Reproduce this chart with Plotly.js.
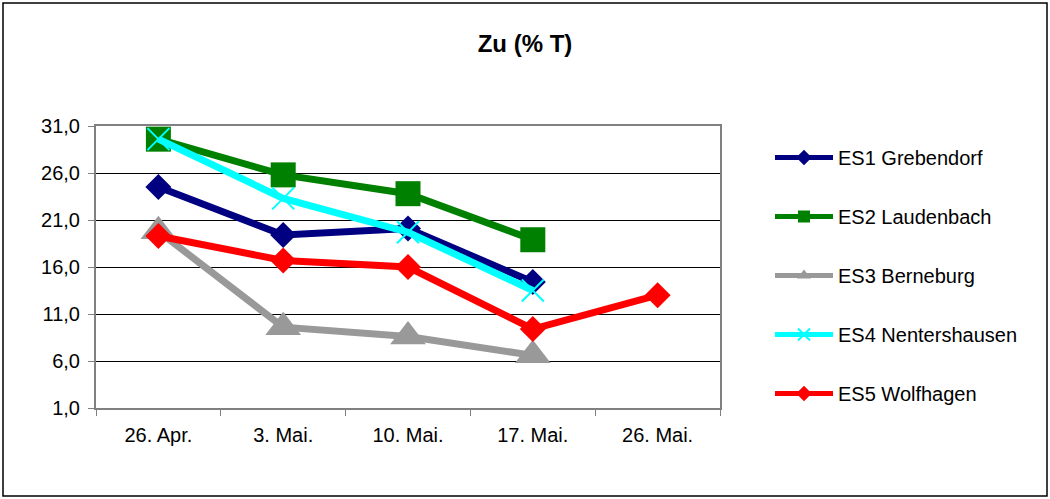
<!DOCTYPE html>
<html><head><meta charset="utf-8">
<script src="https://cdn.plot.ly/plotly-3.0.1.min.js"></script>
<style>html,body{margin:0;padding:0;background:#fff}#c{width:1050px;height:499px}</style>
</head><body><div id="c"></div>
<script>
const categories = ["26. Apr.", "3. Mai.", "10. Mai.", "17. Mai.", "26. Mai."];
const es1 = [24.5, 19.4, 20.1, 14.4, null];
const es2 = [29.6, 25.8, 23.8, 18.9, null];
const es3 = [19.8, 9.6, 8.6, 6.6, null];
const es4 = [29.6, 23.3, 19.7, 13.5, null];
const es5 = [19.3, 16.7, 16.0, 9.4, 13.0];
const names = ["ES1 Grebendorf", "ES2 Laudenbach", "ES3 Berneburg", "ES4 Nentershausen", "ES5 Wolfhagen"];
const colors = ["#000080", "#008000", "#999999", "#00FFFF", "#FF0000"];
const symbols = ["diamond", "square", "triangle-up", "x-thin", "diamond"];
const sizes = [20, 25, 31, 22, 20];
const series = [es1, es2, es3, es4, es5];

const traces = series.map((ys, i) => ({
  x: categories, y: ys, name: names[i], type: "scatter", mode: "lines+markers",
  legendgroup: "g" + i,
  line: {color: colors[i], width: 7},
  marker: {symbol: symbols[i], size: sizes[i], color: colors[i],
           line: {color: colors[i], width: symbols[i] === "x-thin" ? 2 : 0}},
  connectgaps: false, cliponaxis: false
}));

const layout = {
  width: 1050, height: 499,
  margin: {l: 96, r: 330, t: 126, b: 91, autoexpand: false},
  separators: ",.",
  paper_bgcolor: "#fff", plot_bgcolor: "#fff",
  font: {family: "Liberation Sans, Arial, sans-serif", size: 20, color: "#000"},
  title: {text: "<b>Zu (% T)</b>", x: 0.5, xref: "container", xanchor: "center", y: 1 - 44/499, yanchor: "middle", font: {size: 24}},
  xaxis: {type: "category", range: [-0.5, 4.5], showline: true, linecolor: "#808080", linewidth: 2,
          mirror: true, ticks: "outside", tickson: "boundaries", ticklen: 6, tickcolor: "#808080",
          showgrid: false, tickfont: {size: 20}, ticklabelstandoff: 8},
  yaxis: {range: [1, 31], tickvals: [1, 6, 11, 16, 21, 26, 31], tickformat: ".1f",
          showline: true, linecolor: "#808080", linewidth: 2, mirror: true,
          ticks: "outside", ticklen: 6, tickcolor: "#808080",
          showgrid: true, gridcolor: "#000", gridwidth: 1, zeroline: false, tickfont: {size: 20},
          ticklabelstandoff: 4},
  legend: {x: 1 + 50/624, xref: "paper", xanchor: "left", y: 1 - (138/499), yref: "container", yanchor: "top",
           traceorder: "grouped", tracegroupgap: 30, font: {size: 20}, itemwidth: 58,
           itemsizing: "constant", maxheight: 380},
  showlegend: true,
  shapes: [{type: "rect", xref: "paper", yref: "paper", x0: -93/624, x1: 1 + 327/624,
            y0: -88/282, y1: 1 + 123/282, line: {color: "#000", width: 1.5}}]
};
Plotly.newPlot("c", traces, layout, {displayModeBar: false, staticPlot: true});
</script></body></html>
